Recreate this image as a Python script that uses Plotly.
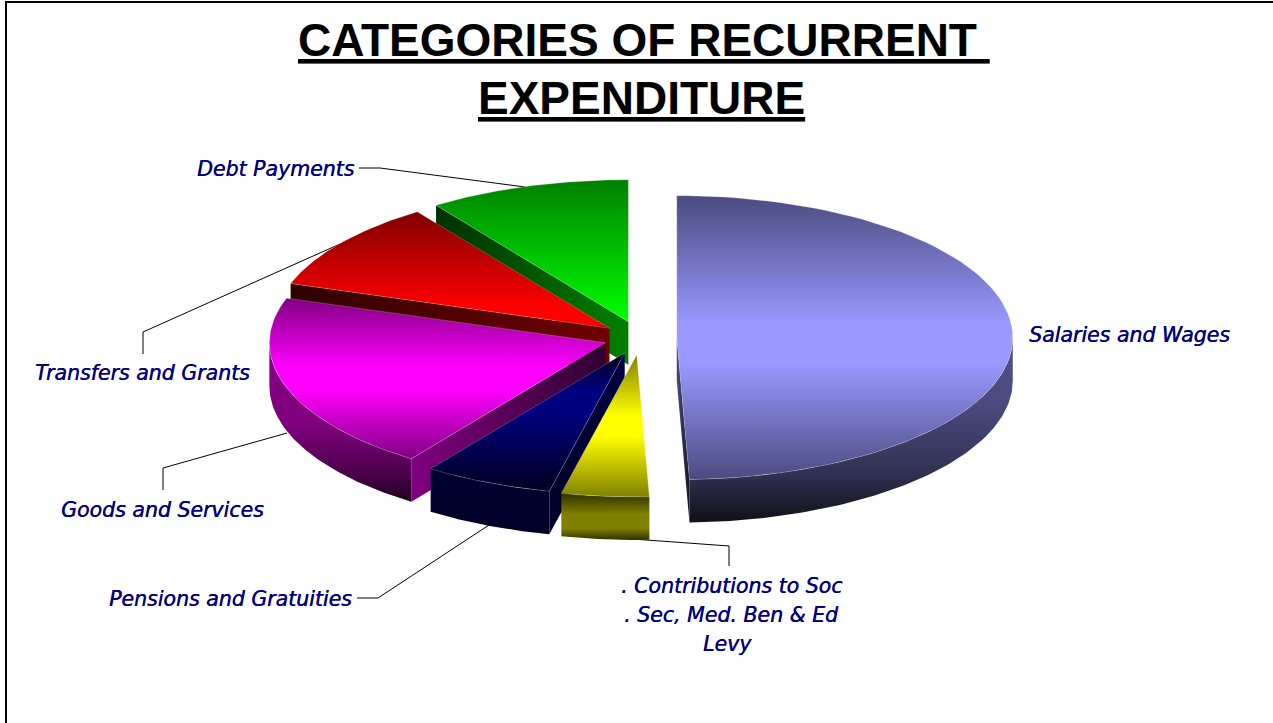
import numpy as np
import plotly.graph_objects as go

# ---- data (percent of recurrent expenditure) ----
categories = ["Salaries and Wages", "Contributions to Soc. Sec, Med. Ben & Ed Levy",
              "Pensions and Gratuities", "Goods and Services",
              "Transfers and Grants", "Debt Payments"]
values = [49.4, 4.2, 6.2, 20.3, 10.2, 9.7]
explode = [0.108, 0.12, 0.115, 0.11, 0.115, 0.12]

# ---- pie geometry in page pixels ----
CX, CY, RX, RY, DEPTH = 640.5, 338.0, 336.0, 142.0, 43.0
W, H = 1273, 723

# per slice styling: top dark, top bright, position of brightest stop
styles = {
    "Salaries and Wages": dict(dark="#4b4b80", bright="#9999ff", pos=0.52,
        rim=[[0, "#50508a"], [0.35, "#4b4b80"], [0.75, "#2f2f50"], [1, "#101018"]], face=("#4b4b80", "#14141f")),
    "Contributions to Soc. Sec, Med. Ben & Ed Levy": dict(dark="#808000", bright="#ffff00", pos=0.5,
        rim=[[0, "#303000"], [0.45, "#808000"], [0.75, "#808000"], [1, "#303000"]], face=("#303000", "#303000")),
    "Pensions and Gratuities": dict(dark="#000020", bright="#000080", pos=0.35,
        rim=[[0, "#000030"], [1, "#000028"]], face=("#000028", "#000040")),
    "Goods and Services": dict(dark="#800080", bright="#ff00ff", pos=0.5,
        rim=[[0, "#800080"], [0.5, "#800080"], [0.8, "#500050"], [1, "#200020"]], face=("#800080", "#300030")),
    "Transfers and Grants": dict(dark="#800000", bright="#ff0000", pos=0.9,
        rim=[[0, "#300000"], [1, "#300000"]], face=("#300000", "#700000")),
    "Debt Payments": dict(dark="#008000", bright="#00ff00", pos=1.0,
        rim=[[0, "#003000"], [1, "#003000"]], face=("#003000", "#008000")),
}
draw_order = ["Debt Payments", "Transfers and Grants", "Goods and Services",
              "Pensions and Gratuities", "Contributions to Soc. Sec, Med. Ben & Ed Levy",
              "Salaries and Wages"]

fig = go.Figure()


def poly(xs, ys, colorscale, kind, start, stop, name, line=None):
    fig.add_trace(go.Scatter(
        x=np.r_[xs, xs[0]], y=np.r_[ys, ys[0]], mode="lines", name=name,
        line=line or dict(width=0), fill="toself", hoverinfo="skip",
        fillgradient=dict(type=kind, colorscale=colorscale, start=start, stop=stop)))


total = sum(values)
edges = np.cumsum([0] + values) / total * 2 * np.pi
slices = {}
for i, cat in enumerate(categories):
    a0, a1 = edges[i], edges[i + 1]
    mid = (a0 + a1) / 2
    slices[cat] = (a0, a1,
                   CX + explode[i] * RX * np.sin(mid),
                   CY - explode[i] * RY * np.cos(mid))

for cat in draw_order:
    a0, a1, ax, ay = slices[cat]
    st = styles[cat]
    px = lambda t: ax + RX * np.sin(t)
    py = lambda t: ay - RY * np.cos(t)
    t = np.linspace(a0, a1, 90)
    # straight cut faces that face the viewer
    for edge, visible in ((a0, np.pi < a0 < 2 * np.pi), (a1, 0 < a1 < np.pi)):
        if visible:
            xs = np.array([ax, px(edge), px(edge), ax])
            ys = np.array([ay, py(edge), py(edge) + DEPTH, ay + DEPTH])
            lo, hi = min(xs), max(xs)
            cs = [[0, st["face"][0]], [1, st["face"][1]]]
            poly(xs, ys, cs, "horizontal", lo, hi, cat + " face")
    # outer rim on the front half
    lo, hi = max(a0, np.pi / 2), min(a1, 3 * np.pi / 2)
    if hi > lo:
        r = np.linspace(lo, hi, 90)
        xs = np.r_[px(r), px(r[::-1])]
        ys = np.r_[py(r), py(r[::-1]) + DEPTH]
        poly(xs, ys, st["rim"], "vertical", ys.min(), ys.max(), cat + " rim")
    # top surface: dark, a broad bright band, dark
    xs = np.r_[ax, px(t)]
    ys = np.r_[ay, py(t)]
    y0, y1 = ys.min(), ys.max()
    if st["pos"] < 1:
        cs = [[0, st["dark"]], [st["pos"] - 0.07, st["bright"]],
              [st["pos"] + 0.07, st["bright"]], [1, st["dark"]]]
    else:
        cs = [[0, st["dark"]], [1, st["bright"]]]
    poly(xs, ys, cs, "vertical", y0, y1, cat,
         line=dict(width=0.6, color="rgba(255,255,255,0.35)"))

# ---- labels ----
LABEL_FONT = dict(family="DejaVu Sans", size=20.5, color="#000080", style="italic",
                  shadow="0.4px 0 0 #000080")
labels = [
    ("Debt Payments", 275.5, 169),
    ("Salaries and Wages", 1129, 335),
    ("Transfers and Grants", 142.5, 373),
    ("Goods and Services", 162.5, 510),
    ("Pensions and Gratuities", 230, 599),
    (". Contributions to Soc", 731, 586),
    (". Sec, Med. Ben &amp; Ed", 731, 615),
    ("Levy", 727, 644),
]
annotations = [dict(text=t, x=x, y=y, xref="x", yref="y", showarrow=False,
                    xanchor="center", yanchor="middle", font=LABEL_FONT)
               for t, x, y in labels]
TITLE_FONT = dict(family="Liberation Sans", size=46, color="black", weight=700)
annotations += [
    dict(text="<u>CATEGORIES OF RECURRENT\u00a0</u>", x=644, y=40, xref="x", yref="y",
         showarrow=False, xanchor="center", yanchor="middle", font=TITLE_FONT),
    dict(text="<u>EXPENDITURE</u>", x=641, y=98, xref="x", yref="y",
         showarrow=False, xanchor="center", yanchor="middle", font=TITLE_FONT),
]

# ---- leader lines and frame ----
leaders = ["M359 168 L380 168 L525 187",
           "M143 354 L143 332 L340 244",
           "M163 490 L163 468 L287 433",
           "M357 598 L378 598 L489 525",
           "M729 566 L729 546 L605 537"]
shapes = [dict(type="path", path=p, xref="x", yref="y", layer="below",
               line=dict(color="black", width=1)) for p in leaders]
shapes.append(dict(type="path", path=f"M6 {H} L6 2 L{W} 2", xref="x", yref="y",
                   layer="below", line=dict(color="black", width=2)))

fig.update_layout(
    width=W, height=H, margin=dict(l=0, r=0, t=0, b=0),
    paper_bgcolor="white", plot_bgcolor="white", showlegend=False,
    xaxis=dict(range=[0, W], visible=False, fixedrange=True),
    yaxis=dict(range=[H, 0], visible=False, fixedrange=True),
    annotations=annotations, shapes=shapes,
)
fig.write_html("out.html", config={"displayModeBar": False},
               post_script="document.body.style.margin='0';document.body.style.overflow='hidden';")
